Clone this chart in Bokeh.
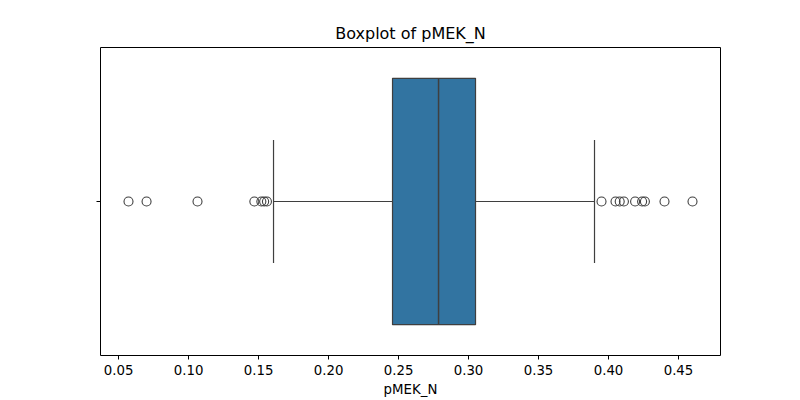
from bokeh.plotting import figure
from bokeh.models import FixedTicker, Range1d
from bokeh.embed import file_html
from bokeh.resources import INLINE

q1, med, q3 = 0.2457, 0.2786, 0.305
whisk_lo, whisk_hi = 0.1607, 0.390
outliers = [0.0571, 0.070, 0.1064, 0.147, 0.152, 0.154, 0.156,
            0.395, 0.405, 0.408, 0.411, 0.419, 0.424, 0.426, 0.440, 0.460]
xticks = [0.05, 0.10, 0.15, 0.20, 0.25, 0.30, 0.35, 0.40, 0.45]

p = figure(width=800, height=400, output_backend="svg", toolbar_location=None,
           x_range=Range1d(0.0371, 0.48), y_range=Range1d(0.5, -0.5),
           title="Boxplot of pMEK_N", min_border_left=100, min_border_right=80,
           min_border_top=47, min_border_bottom=45)
p.title.align = "center"
p.title.text_font = "DejaVu Sans"
p.title.text_font_size = "12pt"
p.title.text_font_style = "normal"
p.title.text_color = "black"
p.xgrid.visible = False
p.ygrid.visible = False
p.outline_line_color = "black"

lc = "#3f3f3f"
p.quad(left=[q1], right=[q3], bottom=[-0.4], top=[0.4], fill_color="#3274a1", line_color=lc, line_width=1.2)
p.segment(x0=[med], x1=[med], y0=[-0.4], y1=[0.4], line_color=lc, line_width=1.5)
p.segment(x0=[whisk_lo, q3], x1=[q1, whisk_hi], y0=[0, 0], y1=[0, 0], line_color=lc, line_width=1.2)
p.segment(x0=[whisk_lo, whisk_hi], x1=[whisk_lo, whisk_hi], y0=[-0.2, -0.2], y1=[0.2, 0.2], line_color=lc, line_width=1.2)
p.scatter(x=outliers, y=[0]*len(outliers), size=9, fill_color=None, line_color=lc, line_width=1.1)

p.xaxis.ticker = FixedTicker(ticks=xticks)
p.xaxis.major_label_overrides = {t: f"{t:.2f}" for t in xticks}
p.xaxis.axis_label = "pMEK_N"
p.xaxis.axis_label_text_font_style = "normal"
p.xaxis.axis_label_text_font = "DejaVu Sans"
p.xaxis.axis_label_text_font_size = "10pt"
p.xaxis.axis_label_text_color = "black"
p.xaxis.axis_label_standoff = 4
p.xaxis.major_label_text_font = "DejaVu Sans"
p.xaxis.major_label_text_font_size = "10pt"
p.xaxis.major_label_text_color = "black"
p.xaxis.minor_tick_line_color = None
p.yaxis.ticker = FixedTicker(ticks=[0])
p.yaxis.major_label_overrides = {0: ""}
p.yaxis.minor_tick_line_color = None
for ax in (p.xaxis[0], p.yaxis[0]):
    ax.major_tick_out = 4
    ax.major_tick_in = 0
    ax.axis_line_color = None
    ax.major_tick_line_color = "black"

open("out.html", "w").write(file_html(p, INLINE))
